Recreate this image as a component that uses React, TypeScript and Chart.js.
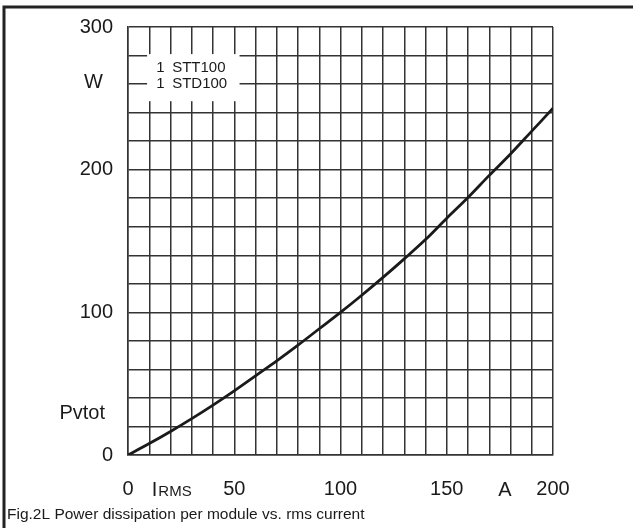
import { useEffect, useRef } from "react";
import { Chart, registerables } from "chart.js";

Chart.register(...registerables);

// ---- data ----
const currentA = [0, 10, 20, 30, 40, 50, 60, 70, 80, 90, 100, 110, 120, 130, 140, 150, 160, 170, 180, 190, 200];
const powerW = [0, 8, 16.5, 25.5, 35, 45, 55.5, 66, 77, 88.5, 100, 112, 124.5, 137.5, 151, 166, 180.5, 196, 211, 227, 243];

const xLabelValues = [0, 50, 100, 150, 200];
const yLabelValues = [0, 100, 200, 300];
const legendLines = ["STT100", "STD100"];
const legendCounts = ["1", "1"];
const captionText = "Fig.2L Power dissipation per module vs. rms current";
const xUnit = "A";
const xSymbolMain = "I";
const xSymbolSub = "RMS";
const yUnit = "W";
const ySymbol = "Pvtot";

const FONT = '"Liberation Sans", Arial, Helvetica, sans-serif';
const GRID = "#333333";
const INK = "#1a1a1a";

const overlayPlugin = {
  id: "overlay",
  beforeDraw(chart: any) {
    const { ctx, width, height } = chart;
    ctx.save();
    ctx.fillStyle = "#ffffff";
    ctx.fillRect(0, 0, width, height);
    ctx.restore();
  },
  beforeDatasetsDraw(chart: any) {
    const { ctx } = chart;
    const xs = chart.scales.x;
    const ys = chart.scales.y;
    const left = xs.getPixelForValue(9);
    const right = xs.getPixelForValue(52.5);
    const top = ys.getPixelForValue(281);
    const bottom = ys.getPixelForValue(248);
    ctx.save();
    ctx.fillStyle = "#ffffff";
    ctx.fillRect(left, top, right - left, bottom - top);
    ctx.fillStyle = INK;
    ctx.font = `15px ${FONT}`;
    ctx.textBaseline = "middle";
    ctx.textAlign = "left";
    legendLines.forEach((t, i) => {
      const y = top + 14 + i * 16;
      ctx.fillText(legendCounts[i], left + 9, y);
      ctx.fillText(t, left + 25, y);
    });
    ctx.restore();
  },
  afterDraw(chart: any) {
    const { ctx, width, height, chartArea } = chart;
    const xs = chart.scales.x;
    const ys = chart.scales.y;
    ctx.save();
    // frame
    ctx.strokeStyle = "#222222";
    ctx.lineWidth = 3;
    ctx.beginPath();
    ctx.moveTo(width, 7);
    ctx.lineTo(4, 7);
    ctx.lineTo(4, height);
    ctx.stroke();

    ctx.fillStyle = INK;
    // x-axis symbol and unit
    const base = chartArea.bottom + 41;
    ctx.textBaseline = "alphabetic";
    ctx.textAlign = "left";
    ctx.font = `20px ${FONT}`;
    const ix = xs.getPixelForValue(11.2);
    ctx.fillText(xSymbolMain, ix, base);
    const iw = ctx.measureText(xSymbolMain).width;
    ctx.font = `15px ${FONT}`;
    ctx.fillText(xSymbolSub, ix + iw + 1, base);
    ctx.font = `20px ${FONT}`;
    ctx.textAlign = "center";
    ctx.fillText(xUnit, xs.getPixelForValue(177.4), base);

    // y-axis symbol and unit
    ctx.textAlign = "right";
    ctx.textBaseline = "middle";
    ctx.fillText(yUnit, chartArea.left - 25, ys.getPixelForValue(261));
    ctx.fillText(ySymbol, chartArea.left - 23, ys.getPixelForValue(29));

    // caption
    ctx.font = `15.5px ${FONT}`;
    ctx.textAlign = "left";
    ctx.textBaseline = "alphabetic";
    ctx.fillText(captionText, 7, 519);
    ctx.restore();
  },
};

export default function App() {
  const ref = useRef<HTMLCanvasElement | null>(null);
  useEffect(() => {
    if (!ref.current) return;
    const chart = new Chart(ref.current, {
      type: "line",
      data: {
        datasets: [
          {
            data: currentA.map((x, i) => ({ x, y: powerW[i] })),
            borderColor: INK,
            borderWidth: 2.8,
            pointRadius: 0,
            fill: false,
            cubicInterpolationMode: "monotone",
          },
        ],
      },
      options: {
        animation: false,
        responsive: false,
        devicePixelRatio: 1,
        layout: { padding: { top: 26, right: 80, bottom: 0, left: 0 } },
        plugins: { legend: { display: false }, tooltip: { enabled: false } },
        scales: {
          x: {
            type: "linear",
            min: 0,
            max: 200,
            afterFit: (s: any) => {
              s.height = 73;
            },
            ticks: {
              stepSize: 10,
              autoSkip: false,
              maxRotation: 0,
              padding: 22,
              color: INK,
              font: { family: FONT, size: 20 },
              callback: (v: any) => (xLabelValues.includes(Number(v)) ? String(v) : ""),
            },
            grid: { color: GRID, lineWidth: 1.5, drawTicks: false },
            border: { color: GRID, width: 1.5 },
          },
          y: {
            type: "linear",
            min: 0,
            max: 300,
            afterFit: (s: any) => {
              s.width = 128;
            },
            ticks: {
              stepSize: 20,
              autoSkip: false,
              padding: 15,
              color: INK,
              font: { family: FONT, size: 20 },
              callback: (v: any) => (yLabelValues.includes(Number(v)) ? String(v) : ""),
            },
            grid: { color: GRID, lineWidth: 1.5, drawTicks: false },
            border: { color: GRID, width: 1.5 },
          },
        },
      },
      plugins: [overlayPlugin],
    });
    return () => chart.destroy();
  }, []);
  return (
    <div style={{ position: "absolute", left: 0, top: 0, width: 633, height: 528 }}>
      <canvas ref={ref} width={633} height={528} style={{ display: "block" }} />
    </div>
  );
}
